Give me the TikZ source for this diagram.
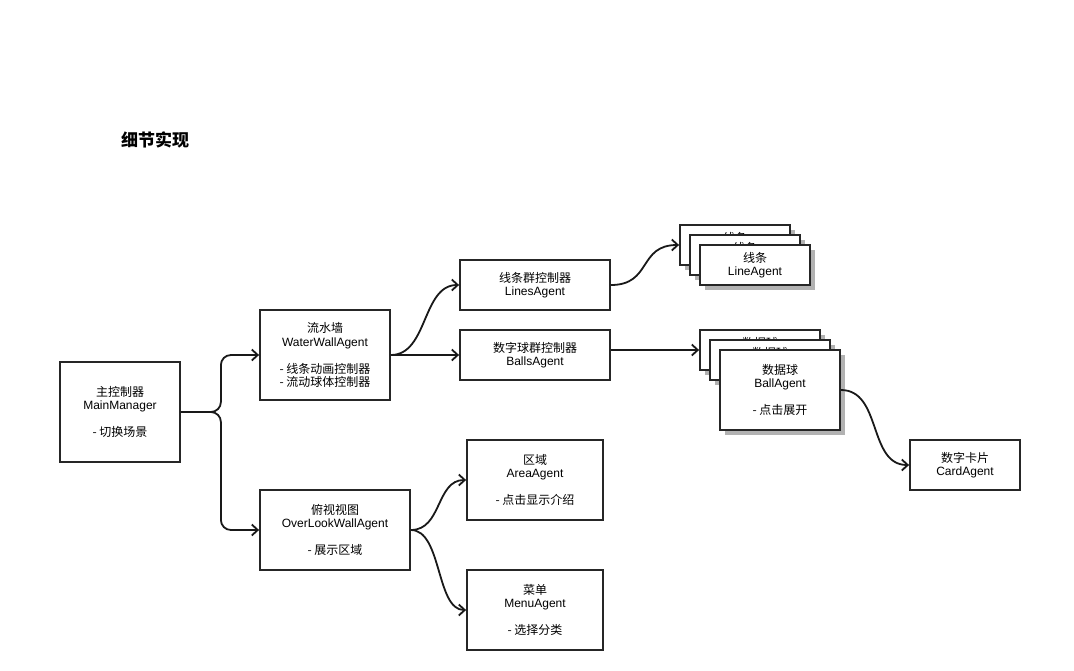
\documentclass[tikz,border=0pt]{standalone}
\usepackage{fontspec}
\setmainfont{Liberation Sans}
\newfontfamily\cjk{Noto Sans CJK SC}
\usetikzlibrary{arrows.meta,shadows}
\newcommand\zh[1]{{\cjk #1}}
\begin{document}
\begin{tikzpicture}[x=1pt,y=-1pt,
  box/.style={draw=black!85, line width=1.8, fill=white, inner sep=0pt,
    align=center, font=\fontsize{12}{13.5}\selectfont},
  stackbox/.style={box, drop shadow={shadow xshift=5pt, shadow yshift=-5pt, fill=black!30, opacity=1}},
  link/.style={line width=1.8, draw=black!90, -{Straight Barb[length=6,width=11]}}]
\useasboundingbox (0,0) rectangle (1074,670);

\node[font=\cjk\bfseries\fontsize{17}{20}\selectfont] (title) at (155,140) {细节实现};

\node[box, minimum width=120, minimum height=100] (main) at (120,412)
  {\zh{主控制器}\\MainManager\\[13.5pt]\zh{- 切换场景}};
\node[box, minimum width=130, minimum height=90] (ww) at (325,355)
  {\zh{流水墙}\\WaterWallAgent\\[13.5pt]\zh{- 线条动画控制器}\\\zh{- 流动球体控制器}};
\node[box, minimum width=150, minimum height=80] (ol) at (335,530)
  {\zh{俯视视图}\\OverLookWallAgent\\[13.5pt]\zh{- 展示区域}};
\node[box, minimum width=150, minimum height=50] (lines) at (535,285)
  {\zh{线条群控制器}\\LinesAgent};
\node[box, minimum width=150, minimum height=50] (balls) at (535,355)
  {\zh{数字球群控制器}\\BallsAgent};
\node[box, minimum width=136, minimum height=80] (area) at (535,480)
  {\zh{区域}\\AreaAgent\\[13.5pt]\zh{- 点击显示介绍}};
\node[box, minimum width=136, minimum height=80] (menu) at (535,610)
  {\zh{菜单}\\MenuAgent\\[13.5pt]\zh{- 选择分类}};

% stacked line agents
\node[stackbox, minimum width=110, minimum height=40] (la1) at (735,245) {\zh{线条}\\LineAgent};
\node[stackbox, minimum width=110, minimum height=40] (la2) at (745,255) {\zh{线条}\\LineAgent};
\node[stackbox, minimum width=110, minimum height=40] (la3) at (755,265) {\zh{线条}\\LineAgent};

% stacked ball agents
\node[stackbox, minimum width=120, minimum height=40] (ba1) at (760,350) {\zh{数据球}\\BallAgent};
\node[stackbox, minimum width=120, minimum height=40] (ba2) at (770,360) {\zh{数据球}\\BallAgent};
\node[stackbox, minimum width=120, minimum height=80] (ba3) at (780,390)
  {\zh{数据球}\\BallAgent\\[13.5pt]\zh{- 点击展开}};

\node[box, minimum width=110, minimum height=50] (card) at (965,465)
  {\zh{数字卡片}\\CardAgent};

% connectors
\draw[link, rounded corners=10] (main.east) -- ++(40,0) |- (ww.west);
\draw[link, rounded corners=10] (main.east) -- ++(40,0) |- (ol.west);
\draw[link] (ww.east) .. controls (428,355) and (422,285) .. (lines.west);
\draw[link] (ww.east) -- (balls.west);
\draw[link] (lines.east) .. controls (652,285) and (638,245) .. (la1.west);
\draw[link] (balls.east |- ba1.west) -- (ba1.west);
\draw[link] (ba3.east) .. controls (882,390) and (868,465) .. (card.west);
\draw[link] (ol.east) .. controls (442,530) and (436,480) .. (area.west);
\draw[link] (ol.east) .. controls (442,530) and (436,610) .. (menu.west);
\end{tikzpicture}
\end{document}
